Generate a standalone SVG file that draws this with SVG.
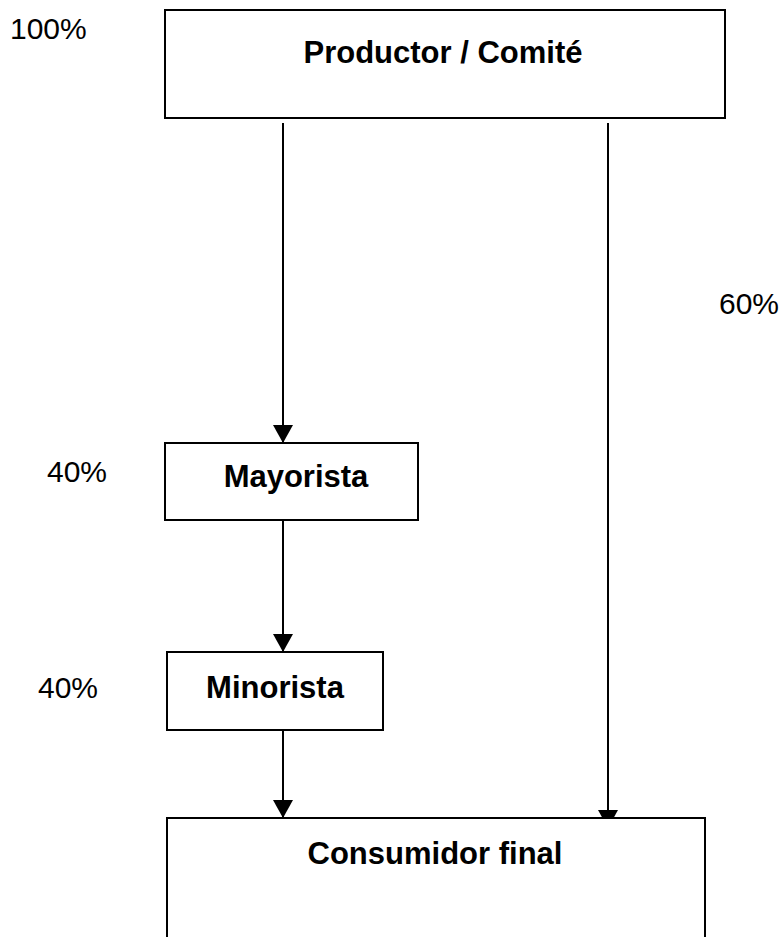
<svg xmlns="http://www.w3.org/2000/svg" width="780" height="937" viewBox="0 0 780 937">
<style>
.box{fill:#fff;stroke:#000;stroke-width:2}
.lbl{font-family:"Liberation Sans",Arial,sans-serif;font-weight:bold;font-size:31px;text-anchor:middle;fill:#000}
.pct{font-family:"Liberation Sans",Arial,sans-serif;font-size:30px;fill:#000}
.con{stroke:#000;stroke-width:2;fill:none}
</style>
<defs>
<marker id="ah" markerUnits="userSpaceOnUse" markerWidth="18" markerHeight="20" refX="18" refY="10" orient="auto" viewBox="0 0 18 20">
<path d="M0,0 L18,10 L0,20 Z" fill="#000"/>
</marker>
</defs>
<rect width="780" height="937" fill="#fff"/>
<g id="connectors">
<line class="con" x1="283" y1="123" x2="283" y2="443" marker-end="url(#ah)"/>
<line class="con" x1="608" y1="123" x2="608" y2="828" marker-end="url(#ah)"/>
<line class="con" x1="283" y1="520" x2="283" y2="652" marker-end="url(#ah)"/>
<line class="con" x1="283" y1="730" x2="283" y2="818" marker-end="url(#ah)"/>
</g>
<g id="productor">
<rect class="box" x="165" y="10" width="560" height="108"/>
<text class="lbl" x="443" y="63">Productor / Comité</text>
</g>
<g id="mayorista">
<rect class="box" x="165" y="443" width="253" height="77"/>
<text class="lbl" x="296" y="487">Mayorista</text>
</g>
<g id="minorista">
<rect class="box" x="167" y="652" width="216" height="78"/>
<text class="lbl" x="275" y="698">Minorista</text>
</g>
<g id="consumidor">
<rect class="box" x="167" y="818" width="538" height="140"/>
<text class="lbl" x="435" y="864">Consumidor final</text>
</g>
<g id="percentages">
<text class="pct" x="10" y="39">100%</text>
<text class="pct" x="719" y="314">60%</text>
<text class="pct" x="47" y="482">40%</text>
<text class="pct" x="38" y="698">40%</text>
</g>
</svg>
